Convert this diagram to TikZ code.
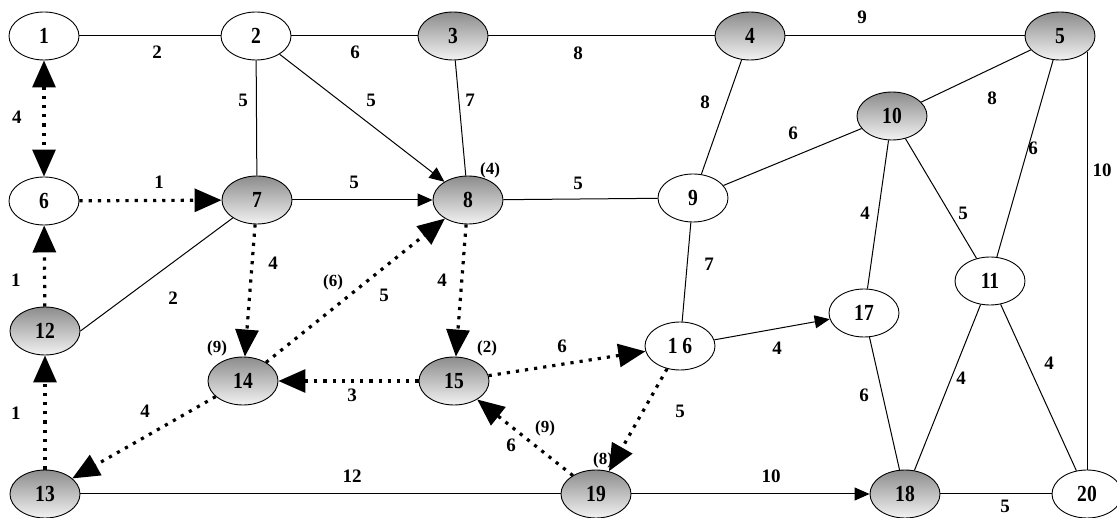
\documentclass[tikz,border=0pt]{standalone}
\usepackage{fontspec}
\setmainfont{Liberation Serif}
\newfontfamily\vertexfont[FakeStretch=0.85]{Liberation Serif}
\usetikzlibrary{arrows.meta,shapes.geometric}
\tikzset{
    vertex/.style={
        ellipse, draw, line width=0.9pt,
        minimum width=70pt, minimum height=48pt, inner sep=0pt,
        fill=white,
        font=\vertexfont\bfseries\fontsize{23}{23}\selectfont
    },
    marked/.style={
        vertex,
        top color=black!45, bottom color=black!5
    },
    line/.style={
        line width=1pt
    },
    arrow/.style={
        line,
        -{Triangle[length=15pt, width=13pt]}
    },
    dotline/.style={
        line width=3.2pt,
        dash pattern=on 3.2pt off 6pt
    },
    dotarrow/.style={
        dotline,
        -{Triangle[length=27pt, width=23pt]}
    },
    dotboth/.style={
        dotline,
        {Triangle[length=27pt, width=23pt]}-{Triangle[length=27pt, width=23pt]}
    },
    weight/.style={
        inner sep=0pt,
        font=\bfseries\fontsize{19}{19}\selectfont
    },
    note/.style={
        inner sep=0pt,
        font=\bfseries\fontsize{17}{17}\selectfont
    }
}

\begin{document}
\begin{tikzpicture}[x=1pt, y=-1pt]
    \useasboundingbox (0, 0) rectangle (1117, 518);

    % vertices
    \node [vertex] (n1) at (44, 36) {1};
    \node [vertex] (n2) at (256, 36) {2};
    \node [marked] (n3) at (453, 36) {3};
    \node [marked] (n4) at (750, 36) {4};
    \node [marked] (n5) at (1060, 36) {5};
    \node [vertex] (n6) at (44, 201) {6};
    \node [marked] (n7) at (257, 200) {7};
    \node [marked] (n8) at (468, 200) {8};
    \node [vertex] (n9) at (693, 198) {9};
    \node [marked] (n10) at (892, 116) {10};
    \node [vertex] (n11) at (990, 281) {11};
    \node [marked] (n12) at (45, 331) {12};
    \node [marked] (n13) at (45, 494) {13};
    \node [marked] (n14) at (243, 381) {14};
    \node [marked] (n15) at (454, 381) {15};
    \node [vertex] (n16) at (680, 346) {1 6};
    \node [vertex] (n17) at (864, 313) {17};
    \node [marked] (n18) at (905, 494) {18};
    \node [marked] (n19) at (596, 494) {19};
    \node [vertex] (n20) at (1087, 494) {20};

    % solid edges
    \draw [line] (n1) -- (n2);
    \draw [line] (n2) -- (n3);
    \draw [line] (n3) -- (n4);
    \draw [line] (n4) -- (n5);
    \draw [line] (n20.north) -- (n20.north |- n5.-30);
    \draw [line] (n2) -- (n7);
    \draw [arrow] (n2) -- (n8);
    \draw [line] (n3) -- (n8);
    \draw [arrow] (n7) -- (n8);
    \draw [line] (n8) -- (n9);
    \draw [line] (n4) -- (n9);
    \draw [line] (n9) -- (n10);
    \draw [line] (n10) -- (n5);
    \draw [line] (n5) -- (n11);
    \draw [line] (n10) -- (n11);
    \draw [line] (n10) -- (n17);
    \draw [line] (n9) -- (n16);
    \draw [arrow] (n16) -- (n17);
    \draw [line] (n17) -- (n18);
    \draw [line] (n11) -- (n18);
    \draw [line] (n11) -- (n20);
    \draw [line] (n18) -- (n20);
    \draw [arrow] (n19) -- (n18);
    \draw [line] (n13) -- (n19);
    \draw [line] (n7) -- (n12.east);

    % dotted edges
    \draw [dotboth] (n1) -- (n6);
    \draw [dotarrow] (n6) -- (n7);
    \draw [dotarrow] (n12) -- (n6);
    \draw [dotarrow] (n13) -- (n12);
    \draw [dotarrow] (n7) -- (n14);
    \draw [dotarrow] (n14) -- (n8);
    \draw [dotarrow] (n8) -- (n15);
    \draw [dotarrow] (n15) -- (n14);
    \draw [dotarrow] (n14) -- (n13);
    \draw [dotarrow] (n15) -- (n16);
    \draw [dotarrow] (n16) -- (n19);
    \draw [dotarrow] (n19) -- (n15);

    % weights
    \foreach \x/\y/\w [count=\k] in {
        157/52/2, 355/52/6, 578/53/8, 862/17/9, 1102/170/10,
        17/117/4, 159/182/1, 354/182/5, 578/183/5,
        243/100/5, 371/100/5, 470/100/7, 705/102/8,
        793/133/6, 992/98/8, 1033/148/6, 865/213/4, 963/213/5,
        709/264/7, 16/280/1, 173/298/2, 273/263/4, 384/295/5,
        442/280/4, 352/395/3, 562/346/6, 777/348/4, 864/395/6,
        961/378/4, 1049/363/4, 16/413/1, 145/411/4, 680/411/5,
        511/445/6, 352/476/12, 771/476/10, 1005/506/5} {
        \node [weight] (w\k) at (\x, \y) {\w};
    }

    % labels in brackets
    \foreach \x/\y/\w [count=\k] in {
        490/170/4, 217/348/9, 333/282/6, 487/348/2, 545/428/9, 603/460/8} {
        \node [note] (p\k) at (\x, \y) {(\w)};
    }
\end{tikzpicture}
\end{document}
